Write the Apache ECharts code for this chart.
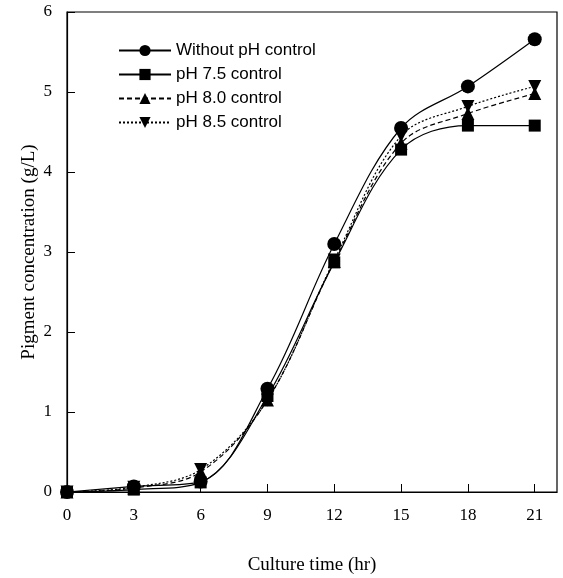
<!DOCTYPE html>
<html><head><meta charset="utf-8">
<script src="https://cdn.jsdelivr.net/npm/echarts@6/dist/echarts.min.js"></script>
<style>html,body{margin:0;padding:0;background:#fff}#c{width:563px;height:578px}</style>
</head><body><div id="c"></div>
<script>
const times = [0, 3, 6, 9, 12, 15, 18, 21];
const xTicks = [0, 3, 6, 9, 12, 15, 18, 21];
const yTicks = [0, 1, 2, 3, 4, 5, 6];
const withoutPH = [0, 0.07, 0.13, 1.29, 3.1, 4.55, 5.07, 5.66];
const pH75 = [0, 0.03, 0.12, 1.2, 2.87, 4.28, 4.58, 4.58];
const pH80 = [0, 0.05, 0.25, 1.15, 2.88, 4.36, 4.73, 4.98];
const pH85 = [0, 0.06, 0.28, 1.15, 2.9, 4.45, 4.82, 5.07];
const names = ['Without pH control', 'pH 7.5 control', 'pH 8.0 control', 'pH 8.5 control'];

const pair = arr => times.map((t, i) => [t, arr[i]]);
const chart = echarts.init(document.getElementById('c'));
const base = (name, data, symbol, size, type) => ({
  name, type: 'line', data: pair(data), smooth: 0.35, symbol, symbolSize: size,
  itemStyle: {color: '#000'},
  lineStyle: {color: '#000', width: 1.2, type}
});
const serif = 'Liberation Serif, Times New Roman';
chart.setOption({
  animation: false,
  grid: {left: 67, right: 6, top: 12, bottom: 86, show: true, borderColor: '#000', borderWidth: 1.2, outerBoundsMode: 'none', containLabel: false},
  legend: {
    left: 113, top: 37, orient: 'vertical', itemWidth: 52, itemHeight: 14, itemGap: 7,
    textStyle: {fontFamily: 'Liberation Sans, Arial', fontSize: 17, color: '#000'},
    data: names
  },
  xAxis: {
    type: 'value', min: 0, max: 22, interval: 3,
    name: 'Culture time (hr)', nameLocation: 'middle', nameGap: 64, nameMoveOverlap: false,
    nameTextStyle: {fontFamily: serif, fontSize: 19, color: '#000'},
    axisLine: {lineStyle: {color: '#000', width: 1.2}},
    axisTick: {inside: true, length: 8, customValues: xTicks, lineStyle: {color: '#000'}},
    axisLabel: {customValues: xTicks, margin: 15, fontFamily: serif, fontSize: 17, color: '#000'},
    splitLine: {show: false}
  },
  yAxis: {
    type: 'value', min: 0, max: 6, interval: 1,
    name: 'Pigment concentration (g/L)', nameLocation: 'middle', nameGap: 28, nameMoveOverlap: false,
    nameTextStyle: {fontFamily: serif, fontSize: 19, color: '#000'},
    axisLine: {lineStyle: {color: '#000', width: 1.2}},
    axisTick: {inside: true, length: 8, lineStyle: {color: '#000'}},
    axisLabel: {margin: 15, fontFamily: serif, fontSize: 17, color: '#000'},
    splitLine: {show: false}
  },
  series: [
    base(names[0], withoutPH, 'circle', 14, 'solid'),
    base(names[1], pH75, 'rect', 12, 'solid'),
    base(names[2], pH80, 'triangle', 13, [5, 3]),
    base(names[3], pH85, 'path://M0,0 L10,0 L5,10 Z', 13, [2, 2])
  ]
});
</script></body></html>
